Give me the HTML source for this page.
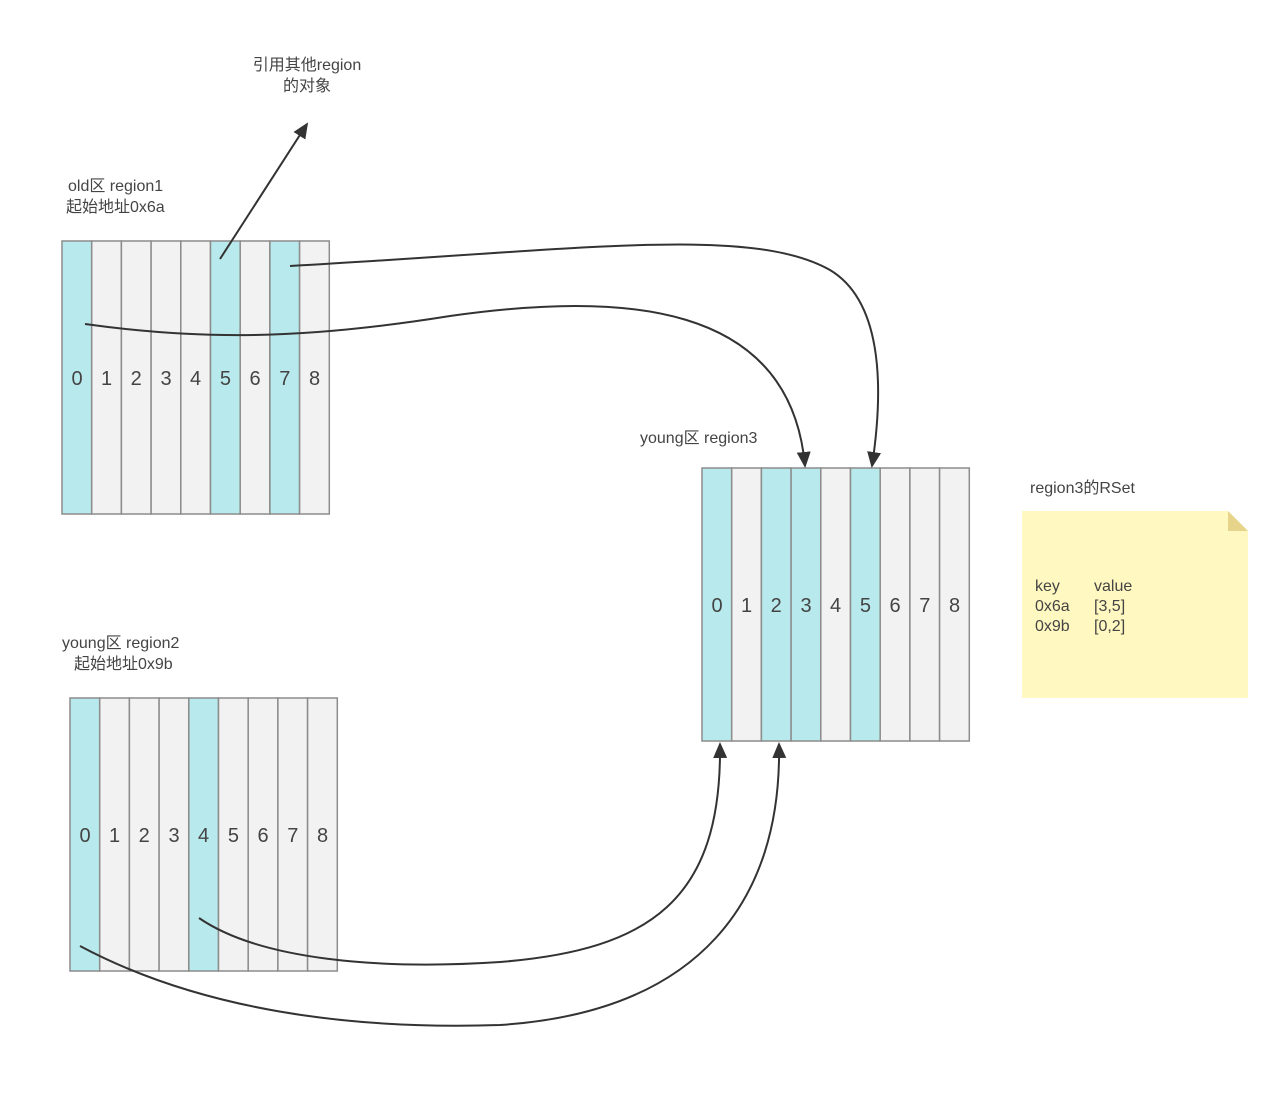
<!DOCTYPE html>
<html><head><meta charset="utf-8"><style>
body{margin:0;background:#fff;}
svg{display:block;}
text{font-family:"Liberation Sans","Noto Sans CJK SC",sans-serif;fill:#444;}
</style></head><body>
<svg width="1280" height="1103" viewBox="0 0 1280 1103" xmlns="http://www.w3.org/2000/svg">
<defs>
<marker id="ah" markerWidth="16" markerHeight="14" refX="14" refY="7" orient="auto" markerUnits="userSpaceOnUse">
<path d="M0,0 L16,7 L0,14 Z" fill="#333"/>
</marker>
</defs>
<g id="r1" stroke="#8c8c8c" stroke-width="1.5">
<rect x="62" y="241" width="29.7" height="273" fill="#b8e9ec"/>
<rect x="91.7" y="241" width="29.7" height="273" fill="#f2f2f2"/>
<rect x="121.4" y="241" width="29.7" height="273" fill="#f2f2f2"/>
<rect x="151.1" y="241" width="29.7" height="273" fill="#f2f2f2"/>
<rect x="180.8" y="241" width="29.7" height="273" fill="#f2f2f2"/>
<rect x="210.5" y="241" width="29.7" height="273" fill="#b8e9ec"/>
<rect x="240.2" y="241" width="29.7" height="273" fill="#f2f2f2"/>
<rect x="269.9" y="241" width="29.7" height="273" fill="#b8e9ec"/>
<rect x="299.6" y="241" width="29.7" height="273" fill="#f2f2f2"/>
</g>
<g stroke="#8c8c8c" stroke-width="1.5">
<rect x="702" y="468" width="29.7" height="273" fill="#b8e9ec"/>
<rect x="731.7" y="468" width="29.7" height="273" fill="#f2f2f2"/>
<rect x="761.4" y="468" width="29.7" height="273" fill="#b8e9ec"/>
<rect x="791.1" y="468" width="29.7" height="273" fill="#b8e9ec"/>
<rect x="820.8" y="468" width="29.7" height="273" fill="#f2f2f2"/>
<rect x="850.5" y="468" width="29.7" height="273" fill="#b8e9ec"/>
<rect x="880.2" y="468" width="29.7" height="273" fill="#f2f2f2"/>
<rect x="909.9" y="468" width="29.7" height="273" fill="#f2f2f2"/>
<rect x="939.6" y="468" width="29.7" height="273" fill="#f2f2f2"/>
</g>
<g stroke="#8c8c8c" stroke-width="1.5">
<rect x="70" y="698" width="29.7" height="273" fill="#b8e9ec"/>
<rect x="99.7" y="698" width="29.7" height="273" fill="#f2f2f2"/>
<rect x="129.4" y="698" width="29.7" height="273" fill="#f2f2f2"/>
<rect x="159.1" y="698" width="29.7" height="273" fill="#f2f2f2"/>
<rect x="188.8" y="698" width="29.7" height="273" fill="#b8e9ec"/>
<rect x="218.5" y="698" width="29.7" height="273" fill="#f2f2f2"/>
<rect x="248.2" y="698" width="29.7" height="273" fill="#f2f2f2"/>
<rect x="277.9" y="698" width="29.7" height="273" fill="#f2f2f2"/>
<rect x="307.6" y="698" width="29.7" height="273" fill="#f2f2f2"/>
</g>
<g font-size="20" text-anchor="middle">
<text x="77" y="385">0</text><text x="106.5" y="385">1</text><text x="136.2" y="385">2</text><text x="166" y="385">3</text><text x="195.6" y="385">4</text><text x="225.4" y="385">5</text><text x="255" y="385">6</text><text x="284.8" y="385">7</text><text x="314.5" y="385">8</text>
<text x="717" y="612">0</text><text x="746.5" y="612">1</text><text x="776.2" y="612">2</text><text x="806" y="612">3</text><text x="835.6" y="612">4</text><text x="865.4" y="612">5</text><text x="895" y="612">6</text><text x="924.8" y="612">7</text><text x="954.5" y="612">8</text>
<text x="85" y="842">0</text><text x="114.5" y="842">1</text><text x="144.2" y="842">2</text><text x="174" y="842">3</text><text x="203.6" y="842">4</text><text x="233.4" y="842">5</text><text x="263" y="842">6</text><text x="292.8" y="842">7</text><text x="322.5" y="842">8</text>
</g>
<g font-size="16">
<text x="307" y="70" text-anchor="middle">引用其他region</text>
<text x="307" y="91" text-anchor="middle">的对象</text>
<text x="68" y="191">old区 region1</text>
<text x="66" y="212">起始地址0x6a</text>
<text x="640" y="443">young区 region3</text>
<text x="62" y="648">young区 region2</text>
<text x="74" y="669">起始地址0x9b</text>
<text x="1030" y="493">region3的RSet</text>
</g>
<path d="M1022,511 L1228,511 L1248,531 L1248,698 L1022,698 Z" fill="#fff8c0"/>
<path d="M1228,511 L1248,531 L1228,531 Z" fill="#e5d48a"/>
<g font-size="16">
<text x="1035" y="591">key</text><text x="1094" y="591">value</text>
<text x="1035" y="611">0x6a</text><text x="1094" y="611">[3,5]</text>
<text x="1035" y="631">0x9b</text><text x="1094" y="631">[0,2]</text>
</g>
<g fill="none" stroke="#333" stroke-width="2">
<path d="M220,259 L307,124" marker-end="url(#ah)"/>
<path d="M290,266 C580,250 750,225 830,270 C880,300 885,380 872,466" marker-end="url(#ah)"/>
<path d="M85,324 C200,340 300,340 450,316 C620,292 790,300 805,466" marker-end="url(#ah)"/>
<path d="M199,918 C260,960 380,970 500,962 C650,950 722,900 720,744" marker-end="url(#ah)"/>
<path d="M80,946 C200,1010 350,1030 500,1025 C700,1012 782,900 779,744" marker-end="url(#ah)"/>
</g>
</svg>
</body></html>
